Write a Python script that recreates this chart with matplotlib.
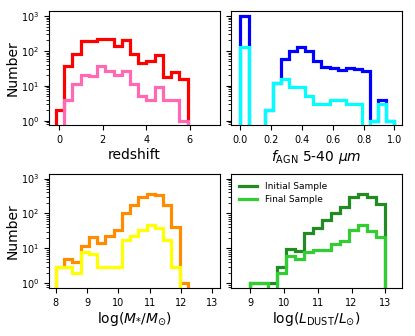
import numpy as np
import matplotlib
matplotlib.use("Agg")
import matplotlib.pyplot as plt

# ---- redshift ----
z_edges = [-0.14, 0.24, 0.61, 0.99, 1.37, 1.75, 2.12, 2.50, 2.88, 3.26,
           3.63, 4.01, 4.39, 4.77, 5.14, 5.52, 5.90]
z_init = [2, 38, 84, 190, 195, 215, 215, 139, 210, 84, 45, 50, 79, 18, 25, 16]
z_final = [0, 4, 11, 21, 19, 37, 26, 21, 26, 11, 5, 4, 9, 4, 4, 1]

# ---- fAGN 5-40 um ----
f_edges = [0.0, 0.053, 0.105, 0.158, 0.211, 0.263, 0.316, 0.368, 0.421, 0.474,
           0.526, 0.579, 0.632, 0.684, 0.737, 0.789, 0.842, 0.895, 0.947, 1.0]
f_init = [1000, 0, 0, 2, 12, 60, 100, 127, 98, 52, 35, 33, 29, 32, 30, 26, 1, 4, 1]
f_final = [130, 0, 0, 2, 12, 16, 9, 9, 5, 3, 3, 4, 4, 3, 3, 0, 1, 3, 1]

# ---- stellar mass ----
m_edges = [8.0, 8.264, 8.528, 8.792, 9.056, 9.32, 9.584, 9.848, 10.112, 10.376,
           10.64, 10.904, 11.168, 11.432, 11.696, 11.96, 12.224]
m_init = [3, 5, 4, 12, 21, 14, 22, 33, 104, 180, 300, 365, 330, 180, 40, 1]
m_final = [3, 3, 2, 8, 7, 3, 3, 3, 17, 22, 33, 48, 37, 17, 3, 0]

# ---- dust luminosity ----
l_edges = [9.0, 9.267, 9.533, 9.8, 10.067, 10.333, 10.6, 10.867, 11.133, 11.4,
           11.667, 11.933, 12.2, 12.467, 12.733, 13.0]
l_init = [1, 1, 1, 3, 9.5, 8.4, 27, 39, 65, 100, 155, 290, 370, 290, 190]
l_final = [1, 1, 0, 2, 6, 5, 8, 9, 9, 13, 16, 33, 46, 32, 21]

fig, axes = plt.subplots(2, 2, figsize=(4.15, 3.36), dpi=100, sharey=True)
fig.subplots_adjust(left=0.118, right=0.969, top=0.967, bottom=0.143,
                    wspace=0.065, hspace=0.42)

panels = [
    (axes[0, 0], z_edges, z_init, z_final, "red", "hotpink", "redshift",
     (-0.46, 7.38), [0, 2, 4, 6]),
    (axes[0, 1], f_edges, f_init, f_final, "blue", "cyan", r"$f_{\rm AGN}$ 5-40 $\mu m$",
     (-0.06, 1.05), [0.0, 0.2, 0.4, 0.6, 0.8, 1.0]),
    (axes[1, 0], m_edges, m_init, m_final, "darkorange", "yellow", r"log($M_{*}/M_{\odot}$)",
     (7.78, 13.25), [8, 9, 10, 11, 12, 13]),
    (axes[1, 1], l_edges, l_init, l_final, "forestgreen", "limegreen", r"log($L_{\rm DUST}/L_{\odot}$)",
     (8.43, 13.5), [9, 10, 11, 12, 13]),
]

for ax, edges, init, final, c1, c2, xlab, xl, xt in panels:
    ax.set_yscale("log")
    ax.stairs(init, edges, baseline=0, color=c1, lw=2.3, label="Initial Sample")
    ax.stairs(final, edges, baseline=0, color=c2, lw=2.3, label="Final Sample")
    ax.set_xlim(xl)
    ax.set_xticks(xt)
    ax.set_xlabel(xlab, fontsize=10, labelpad=2)
    ax.tick_params(labelsize=7)

axes[0, 0].set_ylim(0.73, 1390)
axes[0, 0].set_ylabel("Number", fontsize=10, labelpad=1)
axes[1, 0].set_ylabel("Number", fontsize=10, labelpad=1)

axes[1, 1].legend(loc="upper left", frameon=False, fontsize=6.5, handlelength=2)

plt.savefig("out.png")
